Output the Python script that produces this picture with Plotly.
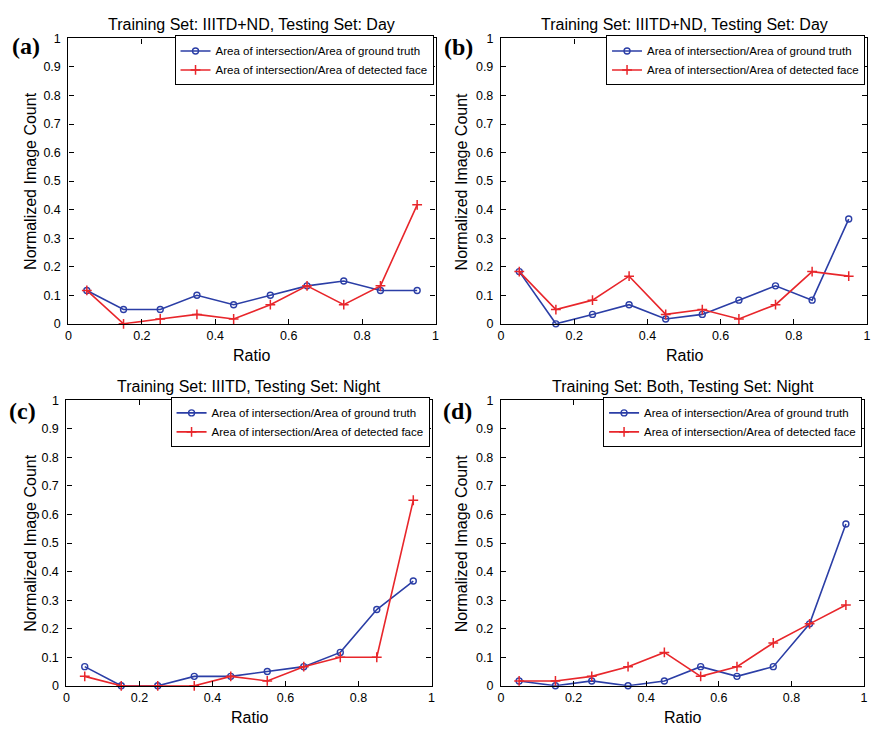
import plotly.graph_objects as go

# Bin centres of the overlap ratio histogram
ratio = [0.05, 0.15, 0.25, 0.35, 0.45, 0.55, 0.65, 0.75, 0.85, 0.95]

# (a) Training: IIITD+ND, Testing: Day
a_gt = [0.117, 0.05, 0.05, 0.1, 0.067, 0.1, 0.133, 0.15, 0.117, 0.117]
a_df = [0.117, 0.0, 0.017, 0.033, 0.017, 0.067, 0.133, 0.067, 0.133, 0.417]
# (b) Training: IIITD+ND, Testing: Day
b_gt = [0.183, 0.0, 0.033, 0.067, 0.017, 0.033, 0.083, 0.133, 0.083, 0.367]
b_df = [0.183, 0.05, 0.083, 0.167, 0.033, 0.05, 0.017, 0.067, 0.183, 0.167]
# (c) Training: IIITD, Testing: Night
c_gt = [0.067, 0.0, 0.0, 0.033, 0.033, 0.05, 0.067, 0.117, 0.267, 0.367]
c_df = [0.033, 0.0, 0.0, 0.0, 0.033, 0.017, 0.067, 0.1, 0.1, 0.65]
# (d) Training: Both, Testing: Night
d_gt = [0.017, 0.0, 0.017, 0.0, 0.017, 0.067, 0.033, 0.067, 0.217, 0.567]
d_df = [0.017, 0.017, 0.033, 0.067, 0.117, 0.033, 0.067, 0.15, 0.217, 0.283]

titles = [
    "Training Set: IIITD+ND, Testing Set: Day",
    "Training Set: IIITD+ND, Testing Set: Day",
    "Training Set: IIITD, Testing Set: Night",
    "Training Set: Both, Testing Set: Night",
]
panel_tags = ["(a)", "(b)", "(c)", "(d)"]
series_names = [
    "Area of intersection/Area of ground truth",
    "Area of intersection/Area of detected face",
]
x_ticks = [0, 0.2, 0.4, 0.6, 0.8, 1]
x_ticktext = ["0", "0.2", "0.4", "0.6", "0.8", "1"]
y_ticks = [0, 0.1, 0.2, 0.3, 0.4, 0.5, 0.6, 0.7, 0.8, 0.9, 1]
y_ticktext = ["0", "0.1", "0.2", "0.3", "0.4", "0.5", "0.6", "0.7", "0.8", "0.9", "1"]

W, H = 874, 733
BLUE = "#2b3ea6"
RED = "#e8262b"
FONT = "Liberation Sans, Arial, sans-serif"

# Plot boxes in pixels: (left, right, top, bottom)
boxes = [
    (66, 436, 32, 323),
    (502, 871, 32, 323),
    (64, 432, 401, 692),
    (502, 868, 401, 692),
]
# panel tag positions and y-title x positions
tag_pos = [(23, 40), (459, 41), (20, 412), (458, 412)]
ytitle_x = [27, 462, 27, 462]

panels = [(a_gt, a_df), (b_gt, b_df), (c_gt, c_df), (d_gt, d_df)]

fig = go.Figure()
layout = dict(
    width=W, height=H,
    margin=dict(l=0, r=0, t=0, b=0),
    paper_bgcolor="white", plot_bgcolor="white",
    font=dict(family=FONT, size=12.5, color="black"),
    annotations=[],
)

for i, ((gt, df), (l, r, t, b)) in enumerate(zip(panels, boxes)):
    n = i + 1
    xa = "x" if n == 1 else f"x{n}"
    ya = "y" if n == 1 else f"y{n}"
    leg = "legend" if n == 1 else f"legend{n}"

    fig.add_trace(go.Scatter(
        x=ratio, y=gt, mode="lines+markers", name=series_names[0],
        xaxis=xa, yaxis=ya, legend=leg, cliponaxis=False,
        line=dict(color=BLUE, width=1.6),
        marker=dict(symbol="circle-open", size=6, color=BLUE, line=dict(width=1.4, color=BLUE)),
    ))
    fig.add_trace(go.Scatter(
        x=ratio, y=df, mode="lines+markers", name=series_names[1],
        xaxis=xa, yaxis=ya, legend=leg, cliponaxis=False,
        line=dict(color=RED, width=1.6),
        marker=dict(symbol="cross-thin", size=7, color=RED, line=dict(width=1.5, color=RED)),
    ))

    axis_common = dict(
        range=[0, 1], showgrid=False, zeroline=False,
        showline=True, linecolor="black", linewidth=1.3, mirror="ticks",
        ticks="inside", ticklen=5, tickcolor="black", tickwidth=1,
        tickfont=dict(family=FONT, size=12.5, color="black"),
    )
    layout["xaxis" if n == 1 else f"xaxis{n}"] = dict(
        axis_common, domain=[l / W, r / W], anchor=ya,
        tickmode="array", tickvals=x_ticks, ticktext=x_ticktext,
    )
    layout["yaxis" if n == 1 else f"yaxis{n}"] = dict(
        axis_common, domain=[1 - b / H, 1 - t / H], anchor=xa,
        tickmode="array", tickvals=y_ticks, ticktext=y_ticktext,
        ticklabelstandoff=4,
    )
    layout[leg] = dict(
        x=(r - 2) / W, y=1 - (t - 3) / H, xanchor="right", yanchor="top",
        xref="paper", yref="paper",
        bgcolor="white", bordercolor="black", borderwidth=1,
        font=dict(family=FONT, size=11.5, color="black"),
        tracegroupgap=0, itemwidth=30,
    )

    cx = (l + r) / 2
    layout["annotations"] += [
        dict(text=titles[i], x=cx / W, y=1 - (t - 14) / H, xref="paper", yref="paper",
             showarrow=False, xanchor="center", yanchor="middle",
             font=dict(family=FONT, size=16, color="black")),
        dict(text="Ratio", x=cx / W, y=1 - (b + 32) / H, xref="paper", yref="paper",
             showarrow=False, xanchor="center", yanchor="middle",
             font=dict(family=FONT, size=16, color="black")),
        dict(text="Normalized Image Count", x=ytitle_x[i] / W, y=1 - ((t + b) / 2) / H,
             xref="paper", yref="paper", showarrow=False, textangle=-90,
             xanchor="center", yanchor="middle",
             font=dict(family=FONT, size=16, color="black")),
        dict(text="<b>" + panel_tags[i] + "</b>", x=tag_pos[i][0] / W, y=1 - tag_pos[i][1] / H,
             xref="paper", yref="paper", showarrow=False,
             xanchor="center", yanchor="middle",
             font=dict(family="Liberation Serif, Times New Roman, serif", size=24, color="black")),
    ]

fig.update_layout(**layout)
fig.write_html("out.html")
